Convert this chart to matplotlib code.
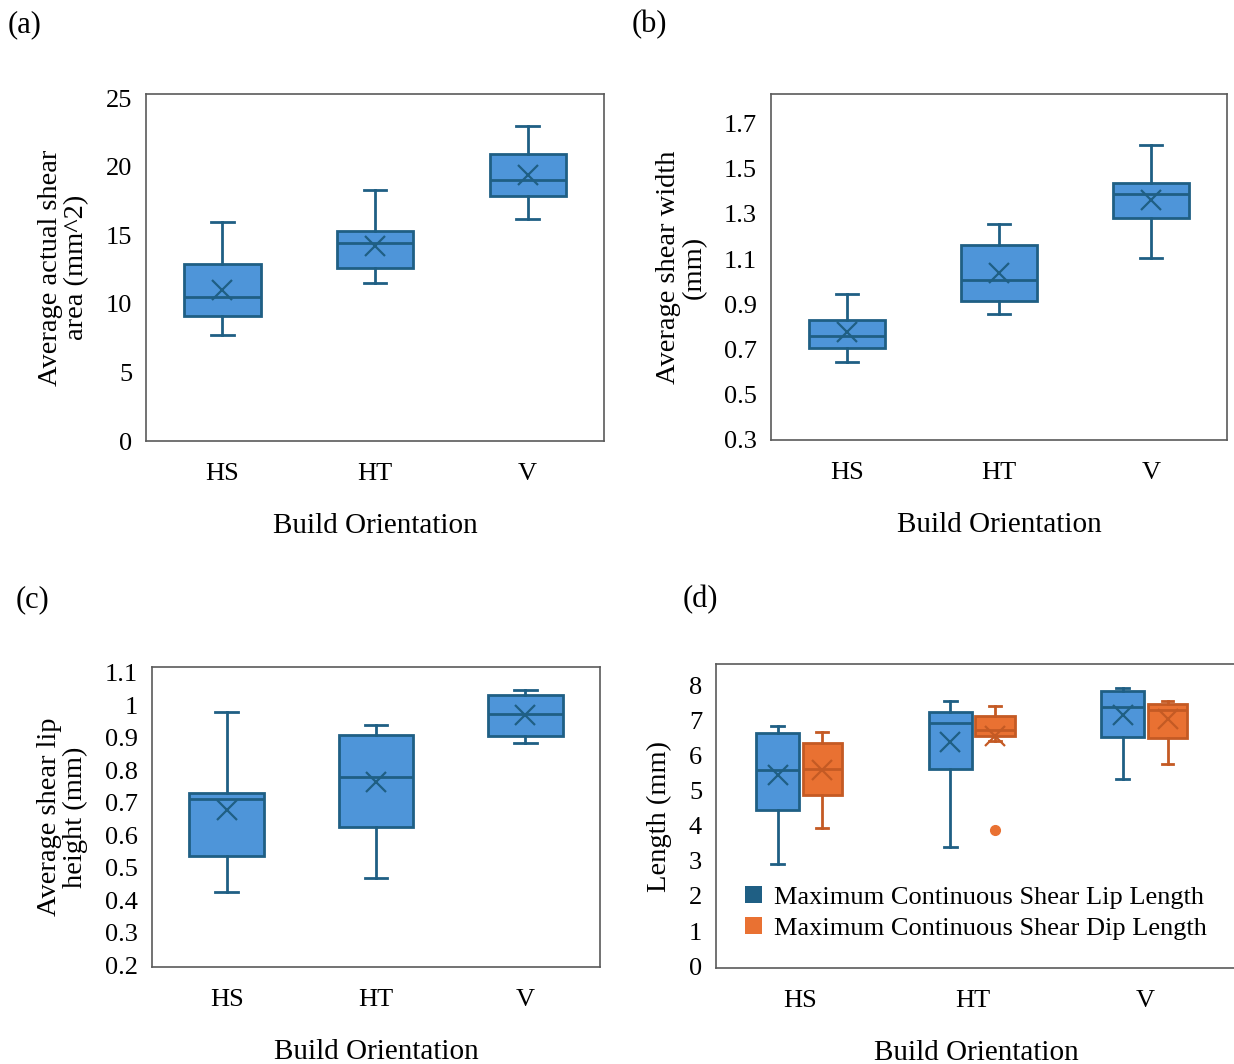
import matplotlib
matplotlib.use('Agg')
import matplotlib.pyplot as plt
from matplotlib.patches import Patch

plt.rcParams['font.family'] = ['Liberation Serif', 'DejaVu Serif']

categorias = ['HS', 'HT', 'V']

# (a) area
a_low = [7.75, 11.5, 16.2]
a_q1 = [9.1, 12.6, 17.85]
a_med = [10.5, 14.4, 19.05]
a_q3 = [12.9, 15.3, 20.9]
a_high = [16.0, 18.3, 22.95]
a_mean = [11.0, 14.25, 19.4]

# (b) width
b_low = [0.646, 0.856, 1.105]
b_q1 = [0.708, 0.915, 1.283]
b_med = [0.758, 1.006, 1.386]
b_q3 = [0.829, 1.163, 1.438]
b_high = [0.945, 1.253, 1.604]
b_mean = [0.776, 1.04, 1.361]

# (c) height
c_low = [0.427, 0.469, 0.884]
c_q1 = [0.536, 0.624, 0.904]
c_med = [0.710, 0.778, 0.974]
c_q3 = [0.731, 0.907, 1.031]
c_high = [0.978, 0.939, 1.047]
c_mean = [0.678, 0.764, 0.971]

# (d) lip length / dip length
lip_low = [2.91, 3.4, 5.34]
lip_q1 = [4.44, 5.6, 6.52]
lip_med = [5.59, 6.93, 7.39]
lip_q3 = [6.63, 7.24, 7.83]
lip_high = [6.85, 7.54, 7.93]
lip_mean = [5.45, 6.37, 7.14]

dip_low = [3.93, 6.4, 5.76]
dip_q1 = [4.87, 6.54, 6.5]
dip_med = [5.6, 6.71, 7.3]
dip_q3 = [6.35, 7.11, 7.45]
dip_high = [6.67, 7.41, 7.55]
dip_mean = [5.57, 6.55, 7.04]
dip_outliers = [[], [3.88], []]

azul = '#4E95D9'
azul_borda = '#1F5F84'
laranja = '#E97132'
laranja_borda = '#C45A24'


def montar(low, q1, med, q3, high, mean, fliers=None):
    stats = []
    for i in range(len(low)):
        stats.append({'whislo': low[i], 'q1': q1[i], 'med': med[i], 'q3': q3[i],
                      'whishi': high[i], 'mean': mean[i],
                      'fliers': fliers[i] if fliers else []})
    return stats


def caixas(ax, stats, pos, larg, cor, borda):
    ax.bxp(stats, positions=pos, widths=larg, showmeans=True, patch_artist=True,
           boxprops=dict(facecolor=cor, edgecolor=borda, linewidth=2),
           medianprops=dict(color=borda, linewidth=2),
           whiskerprops=dict(color=borda, linewidth=2),
           capprops=dict(color=borda, linewidth=2),
           capwidths=larg * 0.3,
           meanprops=dict(marker='x', markeredgecolor=borda, markersize=14, markeredgewidth=1.6),
           flierprops=dict(marker='o', markerfacecolor=laranja, markeredgecolor=laranja, markersize=7))


def estilo(ax, ylim, ticks, ylabel, xlim=(0.5, 3.5)):
    ax.set_xlim(xlim)
    ax.set_ylim(ylim)
    ax.set_yticks(ticks)
    ax.set_yticklabels([('%g' % t) for t in ticks])
    ax.set_xticks([1, 2, 3])
    ax.set_xticklabels(categorias)
    ax.tick_params(length=0, labelsize=19, pad=10)
    ax.tick_params(axis='x', pad=16)
    for s in ax.spines.values():
        s.set_color('#5a5a5a')
        s.set_linewidth(1.2)
    ax.set_ylabel(ylabel, fontsize=20.5, linespacing=1.05, labelpad=12)
    ax.set_xlabel('Build Orientation', fontsize=21, labelpad=20)


W, H = 1234, 1064
fig = plt.figure(figsize=(W / 100, H / 100), dpi=100)


def eixo(l, r, t, b):
    return fig.add_axes([l / W, 1 - b / H, (r - l) / W, (b - t) / H])


ax1 = eixo(146, 604, 94, 441)
caixas(ax1, montar(a_low, a_q1, a_med, a_q3, a_high, a_mean), [1, 2, 3], 0.5, azul, azul_borda)
estilo(ax1, (0, 25.3), [0, 5, 10, 15, 20, 25], 'Average actual shear\narea (mm^2)')

ax2 = eixo(771, 1227, 94, 440)
caixas(ax2, montar(b_low, b_q1, b_med, b_q3, b_high, b_mean), [1, 2, 3], 0.5, azul, azul_borda)
estilo(ax2, (0.3, 1.83), [0.3, 0.5, 0.7, 0.9, 1.1, 1.3, 1.5, 1.7], 'Average shear width\n(mm)')

ax3 = eixo(152, 600, 667, 967)
caixas(ax3, montar(c_low, c_q1, c_med, c_q3, c_high, c_mean), [1, 2, 3], 0.5, azul, azul_borda)
estilo(ax3, (0.195, 1.117), [0.2, 0.3, 0.4, 0.5, 0.6, 0.7, 0.8, 0.9, 1.0, 1.1], 'Average shear lip\nheight (mm)')

ax4 = eixo(716, 1236, 664, 968)
caixas(ax4, montar(lip_low, lip_q1, lip_med, lip_q3, lip_high, lip_mean), [0.87, 1.87, 2.87], 0.25, azul, azul_borda)
caixas(ax4, montar(dip_low, dip_q1, dip_med, dip_q3, dip_high, dip_mean, dip_outliers), [1.13, 2.13, 3.13], 0.23, laranja, laranja_borda)
estilo(ax4, (-0.05, 8.6), [0, 1, 2, 3, 4, 5, 6, 7, 8], 'Length (mm)', xlim=(0.513, 3.527))
ax4.legend(handles=[Patch(facecolor=azul_borda, label='Maximum Continuous Shear Lip Length'),
                    Patch(facecolor=laranja, label='Maximum Continuous Shear Dip Length')],
           loc='lower left', bbox_to_anchor=(0.03, 0.05), frameon=False, fontsize=19,
           handlelength=0.65, handleheight=0.65, handletextpad=0.45, labelspacing=0.3, borderpad=0)

for txt, x, y in [('(a)', 8, 25), ('(b)', 632, 25), ('(c)', 16, 600), ('(d)', 683, 600)]:
    fig.text(x / W, 1 - y / H, txt, fontsize=22, va='center', ha='left')

plt.savefig('out.png', dpi=100)
